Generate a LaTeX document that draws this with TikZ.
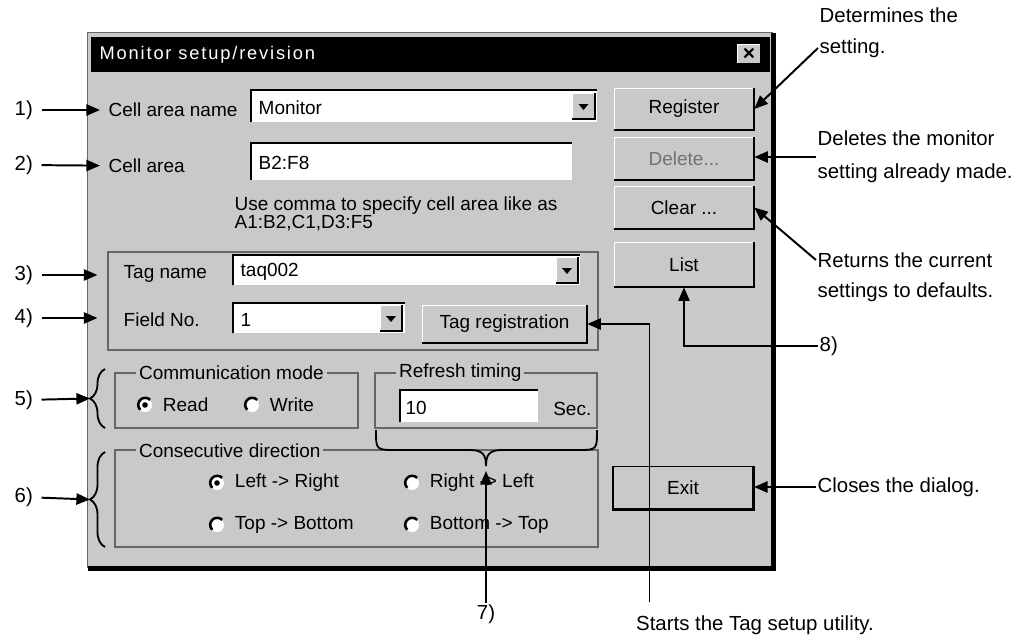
\documentclass[tikz,border=0pt]{standalone}
\usepackage{fontspec}
\setmainfont{Liberation Sans}
\newfontfamily\titlefont[LetterSpace=10]{Liberation Sans}
\usepackage{tikz}
\usetikzlibrary{arrows.meta, positioning, decorations.pathreplacing}
\usepackage{xcolor}
\definecolor{dlggray}{gray}{0.79}
\definecolor{edgegray}{gray}{0.40}
\newlength{\unitpx}
\setlength{\unitpx}{0.025cm}
\tikzset{%
	dlgtext/.style={
		inner sep=1pt,
		font=\fontsize{13.5}{12.8}\selectfont
	},
	dlglabel/.style={dlgtext, anchor=west},
	button/.style={
		dlgtext,
		draw=white,
		fill=dlggray,
		minimum width=140\unitpx,
		minimum height=42\unitpx
	},
	field/.style={fill=white, inner sep=0pt},
	dropbtn/.style={
		fill=dlggray,
		draw=white,
		inner sep=0pt,
		minimum width=22\unitpx,
		minimum height=26\unitpx
	},
	groupbox/.style={draw=edgegray, line width=0.8pt},
	grouptitle/.style={dlgtext, fill=dlggray, anchor=west, inner sep=2pt},
	radio/.style={circle, fill=white, inner sep=0pt, minimum size=14\unitpx},
	btnshadow/.style={black, line width=1.6pt},
	sunken/.style={black, line width=1.6pt},
	grpbrace/.style={line width=1.3pt, decorate, decoration={brace, amplitude=15\unitpx}},
	notetext/.style={
		inner sep=1pt,
		anchor=west,
		font=\fontsize{14.5}{23.4}\selectfont
	},
	notearrow/.style={line width=1.4pt, -{Triangle[length=0.34cm, width=0.28cm]}},
}

\begin{document}
\begin{tikzpicture}[x=0.025cm, y=-0.025cm]
	\useasboundingbox (0,0) rectangle (1026,639);

	% Draw the dialog window
	\node[fill=dlggray, inner sep=0pt, minimum width=685\unitpx, minimum height=535\unitpx] (dlg) at (430.5,300.5) {};
	\draw[edgegray, line width=0.8pt] (dlg.south west) -- (dlg.north west) -- (dlg.north east);
	\draw[line width=3.2pt] (dlg.south west) -- (dlg.south east) -- (dlg.north east);

	% Draw the title bar
	\node[fill=black, inner sep=0pt, minimum width=679\unitpx, minimum height=35\unitpx] (title) at (430.5,54.5) {};
	\node[dlglabel, text=white, font=\titlefont\fontsize{13}{15}\selectfont] (titletext) at (98,55) {Monitor setup/revision};
	\node[dropbtn, minimum width=24\unitpx, minimum height=20\unitpx, font=\bfseries\fontsize{15}{15}\selectfont] (close) at (749,54) {×};

	% Draw the buttons on the right
	\node[button] (reg) at (684,109) {Register};
	\node[button, text=black!55] (del) at (684,158.5) {Delete...};
	\node[button] (clr) at (684,207.5) {Clear ...};
	\node[button, minimum height=45\unitpx] (lst) at (684,264.5) {List};
	\node[button, draw=black, line width=1.4pt] (exit) at (683,487.5) {Exit};

	% Draw the cell area rows
	\node[dlglabel] (lblname) at (107,110) {Cell area name};
	\node[field, minimum width=346\unitpx, minimum height=32\unitpx] (namebox) at (424,106) {};
	\node[dropbtn] (dd1) at (583.5,106) {};
	\node[dlglabel] (nameval) at (257,108) {Monitor};
	\node[dlglabel] (lblarea) at (107,166) {Cell area};
	\node[field, minimum width=321\unitpx, minimum height=37\unitpx] (areabox) at (411.5,161.5) {};
	\node[dlglabel] (areaval) at (257,163) {B2:F8};
	\node[dlgtext, anchor=north west, align=left] (hint) at (233,195) {Use comma to specify cell area like as\\A1:B2,C1,D3:F5};

	% Draw the tag group
	\node[groupbox, minimum width=490\unitpx, minimum height=98\unitpx] (taggrp) at (353,301) {};
	\node[dlglabel] (lbltag) at (122,274) {Tag name};
	\node[field, minimum width=347\unitpx, minimum height=30\unitpx] (tagbox) at (406.5,270) {};
	\node[dropbtn] (dd2) at (567,270) {};
	\node[dlglabel] (tagval) at (239,272) {taq002};
	\node[dlglabel] (lblfield) at (122,320) {Field No.};
	\node[field, minimum width=172\unitpx, minimum height=30\unitpx] (fieldbox) at (319,318) {};
	\node[dropbtn] (dd3) at (391,318) {};
	\node[dlglabel] (fieldval) at (239,320) {1};
	\node[button, minimum width=165\unitpx, minimum height=38\unitpx] (tagreg) at (504.5,324) {Tag registration};

	% Draw the communication mode group
	\node[groupbox, minimum width=243\unitpx, minimum height=55\unitpx] (commgrp) at (236.5,400.5) {};
	\node[grouptitle] (commtitle) at (136,373) {Communication mode};
	\node[radio] (rread) at (145,405) {};
	\node[dlglabel, right=9\unitpx of rread] (tread) {Read};
	\node[radio] (rwrite) at (252,405) {};
	\node[dlglabel, right=9\unitpx of rwrite] (twrite) {Write};

	% Draw the refresh timing group
	\node[groupbox, minimum width=222\unitpx, minimum height=55\unitpx] (timegrp) at (486,400.5) {};
	\node[grouptitle] (timetitle) at (396,373) {Refresh timing};
	\node[field, minimum width=138\unitpx, minimum height=32\unitpx] (timebox) at (469,406) {};
	\node[dlglabel] (timeval) at (404,408) {10};
	\node[dlgtext, anchor=east] (timeunit) at (593,409) {Sec.};

	% Draw the consecutive direction group
	\node[groupbox, minimum width=483\unitpx, minimum height=97\unitpx] (dirgrp) at (356.5,498.5) {};
	\node[grouptitle] (dirtitle) at (136,451) {Consecutive direction};
	\node[radio] (rlr) at (217,483) {};
	\node[dlglabel, right=9\unitpx of rlr] (tlr) {Left -> Right};
	\node[radio] (rtb) at (217,525) {};
	\node[dlglabel, right=9\unitpx of rtb] (ttb) {Top -> Bottom};
	\node[radio] (rrl) at (412,483) {};
	\node[dlglabel, right=9\unitpx of rrl] (trl) {Right -> Left};
	\node[radio] (rbt) at (412,525) {};
	\node[dlglabel, right=9\unitpx of rbt] (tbt) {Bottom -> Top};

	% Sunken edges, shadows and drop-down arrows
	\foreach \f in {namebox,areabox,tagbox,fieldbox,timebox}
		\draw[sunken] (\f.south west) -- (\f.north west) -- (\f.north east);
	\foreach \b in {reg,del,clr,lst,exit,tagreg,dd1,dd2,dd3,close}
		\draw[btnshadow] (\b.south west) -- (\b.south east) -- (\b.north east);
	\foreach \d in {dd1,dd2,dd3}
		\fill ([shift={(-5,-2)}]\d.center) -- ([shift={(5,-2)}]\d.center) -- ([shift={(0,4)}]\d.center) -- cycle;
	\foreach \r in {rread,rwrite,rlr,rtb,rrl,rbt}
		\draw[line width=1.8pt] (\r.45) arc[start angle=45, end angle=225, radius=7\unitpx];
	\foreach \r in {rread,rlr}
		\fill (\r) circle[radius=2.8\unitpx];

	% Draw the braces
	\draw[grpbrace] (105,428) -- (105,369);
	\coordinate (tip5) at (90,398.5);
	\draw[grpbrace] (105,547) -- (105,452);
	\coordinate (tip6) at (90,499.5);
	\draw[line width=1.3pt] (376,430) .. controls (376,450) and (376,450) .. (396,450) -- (470,450)
		.. controls (483,450) and (486,455) .. (486,466) .. controls (486,455) and (489,450) .. (502,450)
		-- (577,450) .. controls (597,450) and (597,450) .. (597,430);
	\coordinate (brace7) at (486,466);

	% Numbered callouts on the left
	\node[notetext] (n1) at (13,110) {1)};
	\node[notetext] (n2) at (13,165) {2)};
	\node[notetext] (n3) at (13,275) {3)};
	\node[notetext] (n4) at (13,318) {4)};
	\node[notetext] (n5) at (13,400) {5)};
	\node[notetext] (n6) at (13,497) {6)};
	\draw[notearrow, shorten <=7\unitpx, shorten >=7\unitpx] (n1) -- (lblname);
	\draw[notearrow, shorten <=7\unitpx, shorten >=7\unitpx] (n2) -- (lblarea);
	\draw[notearrow, shorten <=7\unitpx, shorten >=10\unitpx] (n3) -- (n3 -| taggrp.west);
	\draw[notearrow, shorten <=7\unitpx, shorten >=10\unitpx] (n4) -- (n4 -| taggrp.west);
	\draw[notearrow, shorten <=7\unitpx] (n5) -- (tip5);
	\draw[notearrow, shorten <=7\unitpx] (n6) -- (tip6);

	% Callouts at the bottom
	\node[notetext, anchor=center] (n7) at (486,614) {7)};
	\draw[notearrow, shorten >=5\unitpx] (n7) -- (brace7);
	\node[notetext, anchor=center] (start) at (755,625) {Starts the Tag setup utility.};
	\draw[notearrow] ([xshift=15\unitpx, yshift=12\unitpx]start.north west) |- (tagreg.east);

	% Callouts on the right
	\node[notetext] (det1) at (818,15) {Determines the};
	\node[notetext, below=33\unitpx of det1.west, anchor=west] (det2) {setting.};
	\draw[notearrow] (det2.west) -- (reg.east);
	\node[notetext, align=left] (delnote) at (816,157) {Deletes the monitor\\setting already made.};
	\draw[notearrow] (delnote.west) -- (delnote.west -| del.east);
	\node[notetext] (ret1) at (816,260) {Returns the current};
	\node[notetext, below=32\unitpx of ret1.west, anchor=west] (ret2) {settings to defaults.};
	\draw[notearrow] (ret1.west) -- (clr.east);
	\node[notetext] (n8) at (818,346) {8)};
	\draw[notearrow] (n8) -| (lst);
	\node[notetext] (cls) at (816,487) {Closes the dialog.};
	\draw[notearrow] (cls.west) -- (cls.west -| exit.east);
\end{tikzpicture}
\end{document}
